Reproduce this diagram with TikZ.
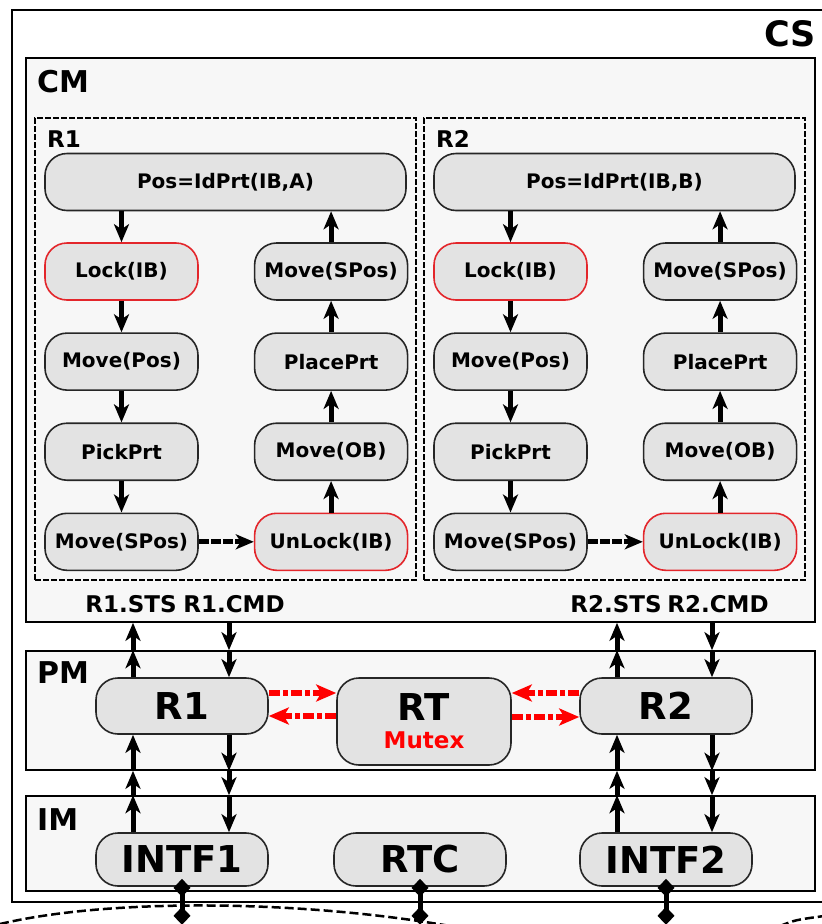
\documentclass[tikz,border=0pt]{standalone}
\usepackage{fontspec}
\setmainfont{DejaVu Sans}
\usetikzlibrary{arrows.meta, positioning}

\definecolor{boxfill}{HTML}{F7F7F7}
\definecolor{nodefill}{HTML}{E3E3E3}
\definecolor{lockred}{HTML}{E3262B}

\begin{document}
\begin{tikzpicture}[
            x = 1pt, y = -1pt, % pixel grid, y downwards
            > = {Stealth[length=18pt, width=15pt, inset=5pt]}, % arrow head style
            font = \bfseries
        ]

        \tikzstyle{module}=[
            draw = black,
            line width = 1.6pt,
            fill = boxfill,
            inner sep = 0pt
        ]
        \tikzstyle{robot}=[
            draw = black,
            line width = 1.3pt,
            dash pattern = on 6pt off 2pt,
            fill = boxfill,
            inner sep = 0pt,
            minimum width = 381pt,
            minimum height = 462pt
        ]
        \tikzstyle{task}=[
            draw = black!85,
            line width = 1.6pt,
            fill = nodefill,
            rounded corners = 22pt,
            minimum width = 153pt,
            minimum height = 57pt,
            font = \fontsize{20}{23}\selectfont\bfseries
        ]
        \tikzstyle{critical}=[task, draw = lockred]
        \tikzstyle{proc}=[
            task,
            minimum width = 172pt,
            minimum height = 56pt,
            font = \fontsize{37}{40}\selectfont\bfseries
        ]
        \tikzstyle{title}=[inner sep = 0pt, font = \fontsize{30}{34}\selectfont\bfseries]
        \tikzstyle{sublabel}=[inner sep = 0pt, font = \fontsize{23}{26}\selectfont\bfseries]
        \tikzstyle{flow}=[->, line width = 5pt]
        \tikzstyle{mutex}=[
            ->, red,
            line width = 6pt,
            > = {Stealth[length=20pt, width=17pt, inset=5pt]},
            dash pattern = on 11pt off 3pt on 5pt off 3pt
        ]
        \tikzstyle{link}=[
            {Diamond[length=18pt, width=17pt]}-{Diamond[length=18pt, width=17pt]},
            line width = 5pt
        ]

        \useasboundingbox (0,0) rectangle (822,924);
        \clip (0,0) rectangle (822,924);

        % network below the system
        \draw[line width = 2.5pt, dash pattern = on 9pt off 4pt]
            (0,924) .. controls (110,898) and (300,900) .. (450,926);
        \draw[line width = 2.5pt, dash pattern = on 9pt off 4pt]
            (780,926) .. controls (795,920) .. (824,916);

        % control system
        \draw[line width = 1.6pt, fill = white] (12,10) rectangle (850,902);
        \node[anchor = base east, inner sep = 0pt, font = \fontsize{35}{38}\selectfont\bfseries] (cs) at (816,46) {CS};

        % modules
        \node[module, minimum width = 789pt, minimum height = 564pt] (cm) at (420.5,340) {};
        \node[module, minimum width = 789pt, minimum height = 119pt] (pm) at (420.5,710.5) {};
        \node[module, minimum width = 789pt, minimum height = 95pt] (im) at (420.5,843.5) {};
        \node[title, anchor = base west] (cmlabel) at (37,92) {CM};
        \node[title, anchor = base west] (pmlabel) at (37,683) {PM};
        \node[title, anchor = base west] (imlabel) at (37,830) {IM};

        % robot 1 program
        \node[robot] (rob1) at (225.5,349) {};
        \node[sublabel, anchor = base west] (rob1label) at (47,147) {R1};
        \node[task, minimum width = 361pt] (pos1) at (225.5,182) {Pos=IdPrt(IB,A)};
        \node[critical] (lock1) at (121.5,271.5) {Lock(IB)};
        \node[task] (move1) [below = 31.5pt of lock1] {Move(Pos)};
        \node[task] (pick1) [below = 31.5pt of move1] {PickPrt};
        \node[task] (back1) [below = 31.5pt of pick1] {Move(SPos)};
        \node[critical] (unlock1) [right = 55pt of back1] {UnLock(IB)};
        \node[task] (out1) [above = 31.5pt of unlock1] {Move(OB)};
        \node[task] (place1) [above = 31.5pt of out1] {PlacePrt};
        \node[task] (home1) [above = 31.5pt of place1] {Move(SPos)};

        \draw[flow] (lock1.north |- pos1.south) -- (lock1.north);
        \draw[flow] (lock1) -- (move1);
        \draw[flow] (move1) -- (pick1);
        \draw[flow] (pick1) -- (back1);
        \draw[flow, dash pattern = on 10pt off 2pt] (back1) -- (unlock1);
        \draw[flow] (unlock1) -- (out1);
        \draw[flow] (out1) -- (place1);
        \draw[flow] (place1) -- (home1);
        \draw[flow] (home1.north) -- (home1.north |- pos1.south);

        % robot 2 program
        \node[robot] (rob2) at (614.5,349) {};
        \node[sublabel, anchor = base west] (rob2label) at (436,147) {R2};
        \node[task, minimum width = 361pt] (pos2) at (614.5,182) {Pos=IdPrt(IB,B)};
        \node[critical] (lock2) at (510.5,271.5) {Lock(IB)};
        \node[task] (move2) [below = 31.5pt of lock2] {Move(Pos)};
        \node[task] (pick2) [below = 31.5pt of move2] {PickPrt};
        \node[task] (back2) [below = 31.5pt of pick2] {Move(SPos)};
        \node[critical] (unlock2) [right = 55pt of back2] {UnLock(IB)};
        \node[task] (out2) [above = 31.5pt of unlock2] {Move(OB)};
        \node[task] (place2) [above = 31.5pt of out2] {PlacePrt};
        \node[task] (home2) [above = 31.5pt of place2] {Move(SPos)};

        \draw[flow] (lock2.north |- pos2.south) -- (lock2.north);
        \draw[flow] (lock2) -- (move2);
        \draw[flow] (move2) -- (pick2);
        \draw[flow] (pick2) -- (back2);
        \draw[flow, dash pattern = on 10pt off 2pt] (back2) -- (unlock2);
        \draw[flow] (unlock2) -- (out2);
        \draw[flow] (out2) -- (place2);
        \draw[flow] (place2) -- (home2);
        \draw[flow] (home2.north) -- (home2.north |- pos2.south);

        % ports of the control module
        \node[sublabel, anchor = base] (sts1) at (131,612) {R1.STS};
        \node[sublabel, anchor = base] (cmd1) at (234,612) {R1.CMD};
        \node[sublabel, anchor = base] (sts2) at (616,612) {R2.STS};
        \node[sublabel, anchor = base] (cmd2) at (718,612) {R2.CMD};

        % process and interface nodes
        \node[proc] (r1) at (182,706) {R1};
        \node[proc, minimum width = 174pt, minimum height = 87pt, align = center] (rt) at (424,721.5)
            {RT\\[-12pt]{\color{red}\fontsize{23}{25}\selectfont Mutex}};
        \node[proc] (r2) at (666,706) {R2};
        \node[proc, minimum height = 53pt] (intf1) at (182,859.5) {INTF1};
        \node[proc, minimum height = 53pt] (rtc) at (420,859.5) {RTC};
        \node[proc, minimum height = 53pt] (intf2) at (666,859.5) {INTF2};

        % status and command lines
        \coordinate (up1) at ([xshift = -49pt]r1.north);
        \coordinate (dn1) at ([xshift = 47pt]r1.north);
        \coordinate (up2) at ([xshift = -49pt]r2.north);
        \coordinate (dn2) at ([xshift = 46pt]r2.north);

        \draw[flow] (up1) -- (up1 |- pm.north);
        \draw[flow] (up1 |- pm.north) -- (up1 |- cm.south);
        \draw[flow] (dn1 |- cm.south) -- (dn1 |- pm.north);
        \draw[flow] (dn1 |- pm.north) -- (dn1);
        \draw[flow] (up1 |- intf1.north) -- (up1 |- im.north);
        \draw[flow] (up1 |- im.north) -- (up1 |- pm.south);
        \draw[flow] (up1 |- pm.south) -- (up1 |- r1.south);
        \draw[flow] (dn1 |- r1.south) -- (dn1 |- pm.south);
        \draw[flow] (dn1 |- pm.south) -- (dn1 |- im.north);
        \draw[flow] (dn1 |- im.north) -- (dn1 |- intf1.north);

        \draw[flow] (up2) -- (up2 |- pm.north);
        \draw[flow] (up2 |- pm.north) -- (up2 |- cm.south);
        \draw[flow] (dn2 |- cm.south) -- (dn2 |- pm.north);
        \draw[flow] (dn2 |- pm.north) -- (dn2);
        \draw[flow] (up2 |- intf2.north) -- (up2 |- im.north);
        \draw[flow] (up2 |- im.north) -- (up2 |- pm.south);
        \draw[flow] (up2 |- pm.south) -- (up2 |- r2.south);
        \draw[flow] (dn2 |- r2.south) -- (dn2 |- pm.south);
        \draw[flow] (dn2 |- pm.south) -- (dn2 |- im.north);
        \draw[flow] (dn2 |- im.north) -- (dn2 |- intf2.north);

        % mutex requests
        \coordinate (req1) at ([yshift = 13pt]r1.east);
        \coordinate (ack1) at ([yshift = -10pt]r1.east);
        \coordinate (req2) at ([yshift = 13pt]r2.west);
        \coordinate (ack2) at ([yshift = -11pt]r2.west);
        \draw[mutex] (req1) -- (req1 -| rt.west);
        \draw[mutex] (ack1 -| rt.west) -- (ack1);
        \draw[mutex] (req2) -- (req2 -| rt.east);
        \draw[mutex] (ack2 -| rt.east) -- (ack2);

        % bus links
        \coordinate (bus1) at ([yshift = -38pt]intf1.south);
        \coordinate (bus2) at ([yshift = -38pt]rtc.south);
        \coordinate (bus3) at ([yshift = -38pt]intf2.south);
        \draw[link] ([yshift = 8pt]intf1.south) -- (bus1);
        \draw[link] ([yshift = 8pt]rtc.south) -- (bus2);
        \draw[link] ([yshift = 8pt]intf2.south) -- (bus3);

    \end{tikzpicture}
\end{document}
